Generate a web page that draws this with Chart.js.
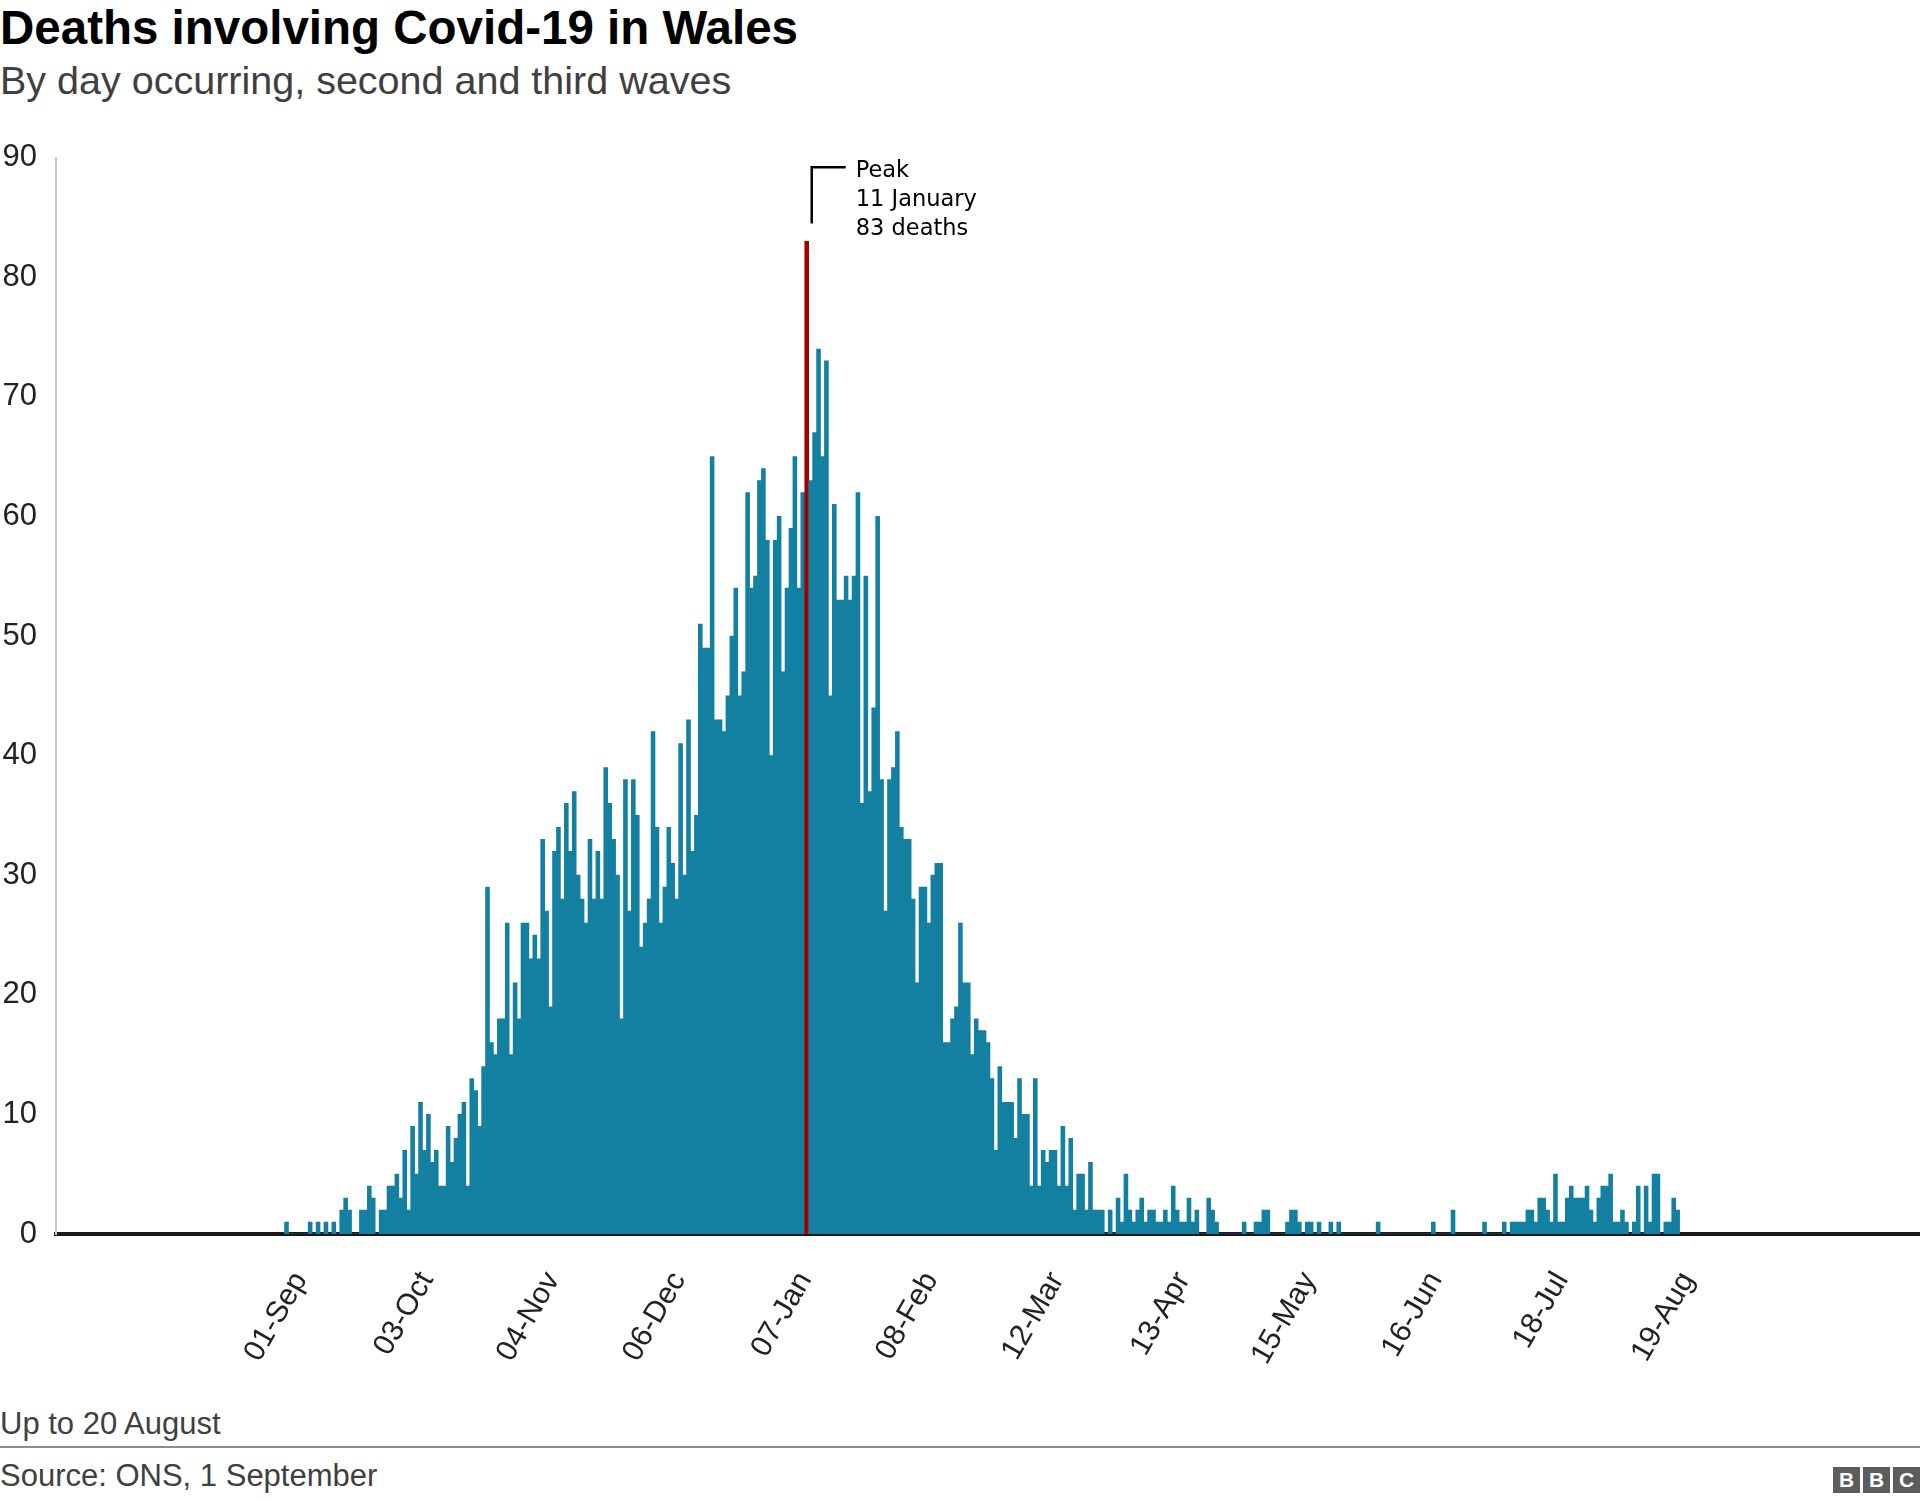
<!DOCTYPE html>
<html>
<head>
<meta charset="utf-8">
<title>Deaths involving Covid-19 in Wales</title>
<script src="https://cdn.jsdelivr.net/npm/chart.js@4.4.0/dist/chart.umd.min.js"></script>
<style>
  html, body { margin: 0; padding: 0; background: #fff; }
  body { width: 1920px; height: 1502px; position: relative; overflow: hidden;
         font-family: 'Liberation Sans', Arial, Helvetica, sans-serif; }
  .txt { position: absolute; left: 0; white-space: nowrap; }
  .title { top: 4px; font-size: 47.5px; line-height: 47.5px; font-weight: 700; color: #000; }
  .subtitle { top: 61px; font-size: 39.5px; line-height: 39.5px; color: #404040; }
  .note { top: 1408px; font-size: 31px; line-height: 31px; color: #404040; }
  .source { top: 1460px; font-size: 31px; line-height: 31px; color: #404040; }
  .rule { position: absolute; left: 0; top: 1446px; width: 1920px; height: 2px; background: #8c8c8c; }
  #chart { position: absolute; left: 0; top: 120px; }
  .bbc { position: absolute; top: 1467px; right: 0; display: flex; gap: 3px; }
  .bbc span { width: 27px; height: 26px; background: #5c5c5c; color: #fff; font: 700 21px/26px 'Liberation Sans', Arial, sans-serif; text-align: center; }
</style>
</head>
<body>
<div class="txt title">Deaths involving Covid-19 in Wales</div>
<div class="txt subtitle">By day occurring, second and third waves</div>
<canvas id="chart" width="1920" height="1280"></canvas>
<div class="txt note">Up to 20 August</div>
<div class="rule"></div>
<div class="txt source">Source: ONS, 1 September</div>
<div class="bbc"><span>B</span><span>B</span><span>C</span></div>

<script>
// daily deaths, 1 Sep 2020 - 20 Aug 2021
const sep = [1,0,0,0,0,0,1,0,1,0, 1,0,1,0,2,3,2,0,0,2, 2,4,3,0,2,2,4,4,5,3];
const oct = [7,2,9,5,11,7,10,6,7,4, 4,9,6,8,10,11,4,13,12,9, 14,29,16,15,18,18,26,15,21,18, 26];
const nov = [26,23,25,23,33,27,19,32,34,28, 36,32,37,30,28,26,33,28,32,28, 39,36,33,30,18,38,27,38,35,24];
const dec = [26,28,42,34,26,29,34,31,28,41, 30,43,32,35,51,49,49,65,43,43, 42,45,50,54,45,47,62,54,55,63, 64];
const jan = [58,40,58,60,47,54,59,65,54,62, 83,63,67,74,65,73,45,61,53,53, 55,53,55,62,36,55,37,44,60,38, 27];
const feb = [38,39,42,34,33,33,28,21,29,29, 26,30,31,31,16,16,18,19,26,21, 21,15,18,17,17,16,13,7];
const mar = [14,11,11,11,8,13,10,10,4,13, 4,7,6,7,7,4,9,4,8,2, 5,5,2,6,2,2,2,0,2,0, 3];
const apr = [1,5,2,1,2,3,1,2,2,1, 1,2,1,4,2,1,1,3,1,2, 0,0,3,2,1,0,0,0,0,0];
const may = [0,1,0,0,1,1,2,2,0,0, 0,0,1,2,2,1,0,1,1,0, 1,0,0,1,0,1,0,0,0,0, 0];
const jun = [0,0,0,0,1,0,0,0,0,0, 0,0,0,0,0,0,0,0,1,0, 0,0,0,2,0,0,0,0,0,0];
const jul = [0,1,0,0,0,0,1,0,1,1, 1,1,2,2,1,3,3,2,1,5, 1,1,3,4,3,3,3,4,2,1, 3];
const aug = [4,4,5,1,1,2,1,0,1,4, 0,4,1,5,5,0,1,1,3,2];

const tickLabels = ['01-Sep', '03-Oct', '04-Nov', '06-Dec', '07-Jan', '08-Feb',
                    '12-Mar', '13-Apr', '15-May', '16-Jun', '18-Jul', '19-Aug'];
const yTicks = [0, 10, 20, 30, 40, 50, 60, 70, 80, 90];
const noteLines = ['Peak', '11 January', '83 deaths'];

const monthNames = ['Jan','Feb','Mar','Apr','May','Jun','Jul','Aug','Sep','Oct','Nov','Dec'];
const startDay = Date.UTC(2020, 8, 1);
const padBefore = 58, padAfter = 61;   // empty days either side of the data

const values = [...sep, ...oct, ...nov, ...dec, ...jan, ...feb, ...mar, ...apr, ...may, ...jun, ...jul, ...aug];
const labels = [];
const series = [];
for (let i = -padBefore; i < values.length + padAfter; i++) {
  const d = new Date(startDay + i * 86400000);
  labels.push(String(d.getUTCDate()).padStart(2, '0') + '-' + monthNames[d.getUTCMonth()]);
  series.push(i >= 0 && i < values.length ? values[i] : null);
}
const peakValue = Math.max(...values);
const peakIndex = padBefore + values.indexOf(peakValue);

const FONT = "'Liberation Sans', Arial, sans-serif";
const TEAL = '#1380a1';
const RED = '#a50000';

const peakNote = {
  id: 'peakNote',
  afterDraw(chart) {
    const { ctx } = chart;
    const x = chart.scales.x.getPixelForValue(peakIndex);
    const y = chart.scales.y;
    const top = y.getPixelForValue(89.2);
    ctx.save();
    ctx.strokeStyle = '#000';
    ctx.lineWidth = 2.5;
    ctx.beginPath();
    ctx.moveTo(x + 5, y.getPixelForValue(84.5));
    ctx.lineTo(x + 5, top);
    ctx.lineTo(x + 39, top);
    ctx.stroke();
    ctx.fillStyle = '#000';
    ctx.font = "22.5px 'DejaVu Sans'";
    ctx.textBaseline = 'middle';
    noteLines.forEach((t, i) => ctx.fillText(t, x + 49, top + 4 + i * 29));
    ctx.restore();
  }
};

new Chart(document.getElementById('chart'), {
  type: 'bar',
  data: {
    labels: labels,
    datasets: [{
      data: series,
      backgroundColor: series.map((v, i) => i === peakIndex ? RED : TEAL),
      borderWidth: 0,
      barPercentage: 1,
      categoryPercentage: 1
    }]
  },
  options: {
    responsive: false,
    animation: false,
    layout: { padding: { top: 29, left: 0, right: 0, bottom: 0 } },
    plugins: { legend: { display: false }, tooltip: { enabled: false } },
    scales: {
      x: {
        grid: { display: false, drawTicks: false },
        border: { display: true, color: '#1a1a1a', width: 4 },
        ticks: {
          autoSkip: false, minRotation: 60, maxRotation: 60,
          color: '#222', padding: 32, labelOffset: 14,
          font: { family: FONT, size: 30 },
          callback(value, index) {
            const lab = this.getLabelForValue(value);
            const inData = index >= padBefore && index < padBefore + values.length;
            return inData && tickLabels.includes(lab) ? lab : null;
          }
        },
        afterFit(scale) { scale.height = 166; scale.paddingLeft = 0; scale.paddingRight = 0; }
      },
      y: {
        min: yTicks[0], max: yTicks[yTicks.length - 1],
        grid: { display: false, drawTicks: false },
        border: { display: true, color: '#cccccc', width: 2 },
        ticks: {
          stepSize: 10, color: '#222', padding: 19,
          font: { family: FONT, size: 31 }
        },
        afterBuildTicks(scale) { scale.ticks = yTicks.map(v => ({ value: v })); },
        afterFit(scale) { scale.width = 56; }
      }
    }
  },
  plugins: [peakNote]
});
</script>
</body>
</html>
